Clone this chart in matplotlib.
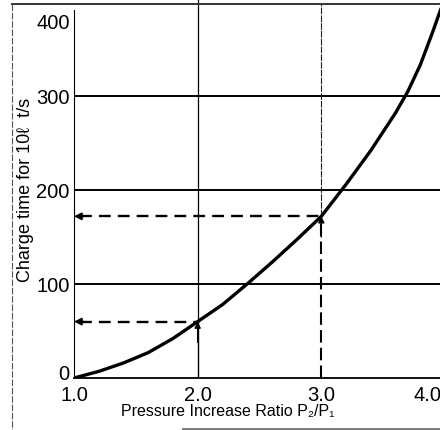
import matplotlib
matplotlib.use("Agg")
import matplotlib.pyplot as plt
import matplotlib.transforms as mtransforms
from matplotlib.lines import Line2D

plt.rcParams["font.family"] = ["Liberation Sans", "DejaVu Sans"]

# curve
ratio = [1.0, 1.2, 1.4, 1.6, 1.8, 2.0, 2.2, 2.4, 2.6, 2.8, 3.0, 3.2, 3.4, 3.6, 3.7, 3.8, 3.9, 4.0]
charge_time = [0, 7, 16, 27, 42, 60, 78, 100, 123, 147, 172, 206, 242, 282, 305, 333, 368, 405]

# the two read-off examples (ratio -> charge time)
ex_ratio = [2.0, 3.0]
ex_time = [60, 172]

xticks = [1.0, 2.0, 3.0, 4.0]
yticks = [0, 100, 200, 300, 400]

W, H = 440, 431
fig = plt.figure(figsize=(W / 100, H / 100), dpi=100)
ax = fig.add_axes([74 / W, (H - 379) / H, 371 / W, 376 / H])
ax.set_xlim(1.0, 4.0)
ax.set_ylim(0, 400)

# horizontal grid
for v in [100, 200, 300]:
    ax.axhline(v, color="black", lw=1.4, zorder=1)
# vertical grid above the example points
ax.plot([2.0, 2.0], [60, 402], color="black", lw=0.9, zorder=1, clip_on=False)
ax.plot([3.0, 3.0], [172, 398], color="#222222", lw=0.8, ls=(0, (6, 1)), zorder=1, clip_on=False)

# curve
ax.plot(ratio, charge_time, color="black", lw=2.4, solid_capstyle="round",
        solid_joinstyle="round", zorder=3)

# read-off arrows
ax.plot([2.0, 2.0], [0, ex_time[0]], color="black", lw=1.0, zorder=2)
ax.plot([3.0, 3.0], [0, ex_time[1]], color="black", lw=1.5, ls=(0, (6, 2.5)), zorder=2)
for xr, t in zip(ex_ratio, ex_time):
    ax.plot([1.05, xr], [t, t], color="black", lw=1.7, ls=(0, (5, 3)), zorder=2)
    ax.annotate("", xy=(1.0, t), xytext=(1.08, t),
                arrowprops=dict(arrowstyle="-|>", color="black", lw=1.2,
                                mutation_scale=11, shrinkA=0, shrinkB=0))
    ax.annotate("", xy=(xr, t), xytext=(xr, t - 22),
                arrowprops=dict(arrowstyle="-|>", color="black", lw=1.0,
                                mutation_scale=9, shrinkA=0, shrinkB=0))

# spines
for s in ["top", "right"]:
    ax.spines[s].set_visible(False)
ax.spines["bottom"].set_linewidth(1.3)
ax.spines["left"].set_linewidth(0.8)
ax.spines["left"].set_linestyle((0, (4, 1)))
ax.spines["left"].set_bounds(0, 391)

ax.set_xticks(xticks)
ax.set_xticklabels([f"{v:.1f}" for v in xticks])
ax.set_yticks(yticks)
ax.set_yticklabels([str(v) for v in yticks])
ax.tick_params(length=0, labelsize=14.5)
ax.tick_params(axis="y", pad=3)
ax.tick_params(axis="x", pad=5)
for lab in ax.get_xticklabels() + ax.get_yticklabels():
    lab.set_clip_on(False)


def nudge(lab, dx, dy):
    lab.set_transform(lab.get_transform() +
                      mtransforms.ScaledTranslation(dx / 100, dy / 100, fig.dpi_scale_trans))


# label placement quirks of the original
ylabs = ax.get_yticklabels()
nudge(ylabs[-1], 0, -18)
nudge(ylabs[0], 0, 6)
nudge(ax.get_xticklabels()[-1], -17, 0)

fig.text(228 / W, 1 - 412 / H, "Pressure Increase Ratio P\u2082/P\u2081",
         ha="center", va="center", fontsize=11.5)
fig.text(26 / W, 1 - 190 / H, "Charge time for 10\u2113  t/s", rotation=90,
         ha="center", va="center", fontsize=13)

# outer frame of the scanned figure
fig.add_artist(Line2D([12 / W, 1], [1 - 5 / H, 1 - 5 / H], color="#333333", lw=1.4))
fig.add_artist(Line2D([12 / W, 12 / W], [1 - 5 / H, 0], color="#555555", lw=0.8, ls=(0, (6, 1.5))))
fig.add_artist(Line2D([183 / W, 1], [1 - 430 / H, 1 - 430 / H], color="#777777", lw=2))

fig.savefig("out.png", dpi=100)
